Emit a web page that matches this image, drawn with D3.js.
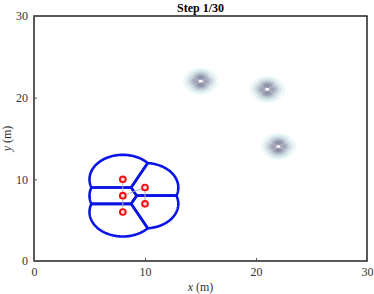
<!DOCTYPE html>
<html>
<head>
<meta charset="utf-8">
<script src="https://d3js.org/d3.v7.min.js"></script>
<style>
body { margin: 0; background: #fff; }
text { font-family: "Liberation Serif", "DejaVu Serif", serif; }
</style>
</head>
<body>
<svg id="chart" width="374" height="294"></svg>
<script>
// robots (x, y in m)
var robotX = [8, 8, 8, 10, 10];
var robotY = [10, 8, 6, 9, 7];
// communication links between robots (index pairs)
var links = [[0, 1], [1, 2], [1, 3], [3, 4]];
// sensing radius of each robot (m)
var senseRadius = 3;
// density peaks (targets)
var peakX = [15, 21, 22];
var peakY = [22, 21, 14];
var peakSigma = 0.62;
var levels = [0.05, 0.1, 0.16, 0.23, 0.3, 0.38, 0.46, 0.54, 0.62, 0.7, 0.78, 0.86, 0.93];
var ticks = [0, 10, 20, 30];
var title = "Step 1/30";

var svg = d3.select("#chart");
var mLeft = 34, mRight = 367, mTop = 16, mBottom = 261;

var x = d3.scaleLinear().domain([0, 30]).range([mLeft, mRight]);
var y = d3.scaleLinear().domain([0, 30]).range([mBottom, mTop]);

// density contours
var res = 0.04;
var n = Math.round(30 / res) + 1;
var grid = new Float64Array(n * n);
for (var j = 0; j < n; j++) {
	for (var i = 0; i < n; i++) {
		var gx = i * res, gy = j * res, v = 0;
		for (var k = 0; k < peakX.length; k++) {
			var dx = gx - peakX[k], dy = gy - peakY[k];
			v += Math.exp(-(dx * dx + dy * dy) / (2 * peakSigma * peakSigma));
		}
		grid[j * n + i] = v;
	}
}
var contours = d3.contours().size([n, n]).thresholds(levels)(grid);
var proj = d3.geoTransform({
	point: function(px, py) { this.stream.point(x(px * res), y(py * res)); }
});
var color = function(t) {
	return d3.interpolateRgb("#c4ecec", "#4a4a70")(Math.min(1, Math.pow((t - 0.05) / 0.75, 0.8)));
};
svg.append("g").selectAll("path")
	.data(contours)
	.enter().append("path")
	.attr("d", d3.geoPath(proj))
	.attr("fill", "none")
	.attr("stroke", function(d) { return color(d.value); })
	.attr("stroke-width", 0.7);

// voronoi cells clipped by sensing disks
var pts = robotX.map(function(d, i) { return [d, robotY[i]]; });
var vor = d3.Delaunay.from(pts).voronoi([0, 0, 30, 30]);

var orient = 1;
function inter(s, p, ss, sp) {
	var t = ss / (ss - sp);
	return [s[0] + t * (p[0] - s[0]), s[1] + t * (p[1] - s[1])];
}
function clipPoly(subject, clip) {
	var out = subject;
	for (var e = 0; e < clip.length - 1; e++) {
		var a = clip[e], b = clip[e + 1];
		var inp = out; out = [];
		if (!inp.length) break;
		var side = function(p) { return (b[0] - a[0]) * (p[1] - a[1]) - (b[1] - a[1]) * (p[0] - a[0]); };
		var s = inp[inp.length - 1];
		for (var m = 0; m < inp.length; m++) {
			var p = inp[m];
			var sp = side(p), ss = side(s);
			if (sp * orient >= 0) {
				if (ss * orient < 0) out.push(inter(s, p, ss, sp));
				out.push(p);
			} else if (ss * orient >= 0) {
				out.push(inter(s, p, ss, sp));
			}
			s = p;
		}
	}
	return out;
}
var line = d3.line().x(function(d) { return x(d[0]); }).y(function(d) { return y(d[1]); });
var cells = pts.map(function(p, i) {
	var cell = vor.cellPolygon(i);
	var area = 0;
	for (var q = 0; q < cell.length - 1; q++) area += cell[q][0] * cell[q + 1][1] - cell[q + 1][0] * cell[q][1];
	orient = area > 0 ? 1 : -1;
	var circle = d3.range(240).map(function(a) {
		var ang = a / 240 * 2 * Math.PI;
		return [p[0] + senseRadius * Math.cos(ang), p[1] + senseRadius * Math.sin(ang)];
	});
	return clipPoly(circle, cell);
});
svg.append("g").selectAll("path")
	.data(cells)
	.enter().append("path")
	.attr("d", function(d) { return line(d) + "Z"; })
	.attr("fill", "none")
	.attr("stroke", "#0a14e6")
	.attr("stroke-width", 2.6)
	.attr("stroke-linejoin", "round");

// links
svg.append("g").selectAll("line")
	.data(links)
	.enter().append("line")
	.attr("x1", function(d) { return x(robotX[d[0]]); })
	.attr("y1", function(d) { return y(robotY[d[0]]); })
	.attr("x2", function(d) { return x(robotX[d[1]]); })
	.attr("y2", function(d) { return y(robotY[d[1]]); })
	.attr("stroke", "#b4b4b4")
	.attr("stroke-width", 1);

// robots
svg.append("g").selectAll("circle")
	.data(pts)
	.enter().append("circle")
	.attr("cx", function(d) { return x(d[0]); })
	.attr("cy", function(d) { return y(d[1]); })
	.attr("r", 2.9)
	.attr("fill", "#ffd6d6")
	.attr("stroke", "#f01010")
	.attr("stroke-width", 1.9);

// frame
svg.append("rect")
	.attr("x", mLeft).attr("y", mTop)
	.attr("width", mRight - mLeft).attr("height", mBottom - mTop)
	.attr("fill", "none").attr("stroke", "#000").attr("stroke-width", 1.3);

// axes
var xAxis = svg.append("g")
	.attr("transform", "translate(0," + mBottom + ")")
	.call(d3.axisBottom(x).tickValues(ticks).tickSizeInner(-3).tickSizeOuter(0).tickPadding(6));
var yAxis = svg.append("g")
	.attr("transform", "translate(" + mLeft + ",0)")
	.call(d3.axisLeft(y).tickValues(ticks).tickSizeInner(-3).tickSizeOuter(0).tickPadding(6));
[xAxis, yAxis].forEach(function(ax) {
	ax.attr("font-family", null);
	ax.select(".domain").remove();
	ax.selectAll("line").attr("stroke", "#555");
	ax.selectAll("text").attr("font-size", 12).attr("fill", "#333");
});

svg.append("text")
	.attr("x", (mLeft + mRight) / 2).attr("y", 12)
	.attr("text-anchor", "middle")
	.attr("font-size", 12).attr("font-weight", "bold")
	.text(title);

var xl = svg.append("text")
	.attr("x", (mLeft + mRight) / 2).attr("y", 291)
	.attr("text-anchor", "middle")
	.attr("font-size", 12).attr("fill", "#333");
xl.append("tspan").attr("font-style", "italic").text("x");
xl.append("tspan").text(" (m)");

var yl = svg.append("text")
	.attr("transform", "translate(11," + (mTop + mBottom) / 2 + ") rotate(-90)")
	.attr("text-anchor", "middle")
	.attr("font-size", 12).attr("fill", "#333");
yl.append("tspan").attr("font-style", "italic").text("y");
yl.append("tspan").text(" (m)");
</script>
</body>
</html>
